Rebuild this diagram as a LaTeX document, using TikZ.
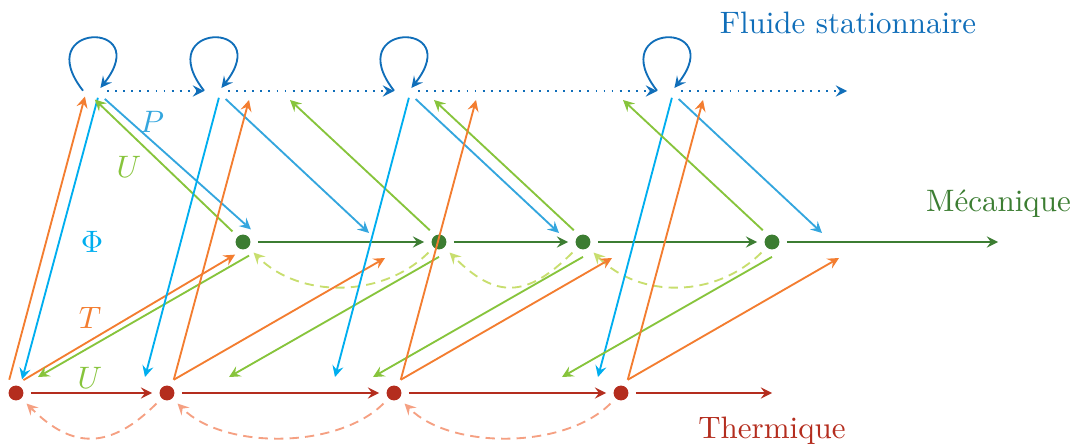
\documentclass[tikz,border=0pt]{standalone}
\usepackage{amsmath,amssymb}
\usepackage{tikz}
\usetikzlibrary{positioning, arrows.meta, calc}

\definecolor{cFluide}{RGB}{16,110,185}
\definecolor{cPhi}{RGB}{0,174,239}
\definecolor{cP}{RGB}{52,166,222}
\definecolor{cU}{RGB}{135,196,60}
\definecolor{cUdash}{RGB}{200,222,110}
\definecolor{cT}{RGB}{243,125,48}
\definecolor{cTdash}{RGB}{245,160,130}
\definecolor{cMeca}{RGB}{60,125,50}
\definecolor{cTherm}{RGB}{180,45,30}

\begin{document}
\begin{tikzpicture}[
    x=3.226pt, y=3.226pt,
    semithick,
    >=stealth,
    fnode/.style={circle, inner sep=0pt, minimum size=5.2pt},
    mnode/.style={circle, fill=cMeca, inner sep=0pt, minimum size=4.8pt, outer sep=2.4pt},
    tnode/.style={circle, fill=cTherm, inner sep=0pt, minimum size=4.8pt, outer sep=2.4pt},
    boucle/.style={->, cFluide},
    rowf/.style={->, dotted, cFluide, shorten <=2pt},
    rowm/.style={->, cMeca},
    rowt/.style={->, cTherm},
    retm/.style={->, cUdash, dash pattern=on 3pt off 2pt},
    rett/.style={->, cTdash, dash pattern=on 3pt off 2pt},
    phiarr/.style={->, cPhi},
    parr/.style={->, cP, shorten <=2pt},
    uarr/.style={->, cU},
    tarr/.style={->, cT}
]
\useasboundingbox (0,0) rectangle (107.6,-44.5);

% Fluid row
\node[fnode] (f0) at (9.2,-9.1) {};
\node[fnode] (f1) at (21.3,-9.1) {};
\node[fnode] (f2) at (40.3,-9.1) {};
\node[fnode] (f3) at (66.6,-9.1) {};
\coordinate (fend) at (84.7,-9.1);

% Mechanical row
\node[mnode] (m0) at (24.3,-24.2) {};
\node[mnode] (m1) at (43.9,-24.2) {};
\node[mnode] (m2) at (58.3,-24.2) {};
\node[mnode] (m3) at (77.2,-24.2) {};
\coordinate (mend) at (99.8,-24.2);

% Thermal row
\node[tnode] (b0) at (1.6,-39.3) {};
\node[tnode] (b1) at (16.7,-39.3) {};
\node[tnode] (b2) at (39.4,-39.3) {};
\node[tnode] (b3) at (62.1,-39.3) {};
\coordinate (bend) at (77.2,-39.3);

% Row titles
\node[text=cFluide] (fluideLabel) at (84.8,-2.25) {Fluide stationnaire};
\node[text=cMeca] (mecaLabel) at (99.85,-20.4) {Mécanique};
\node[text=cTherm] (thermLabel) at (77.2,-43.1) {Thermique};

% Time steps along each row
\foreach \i in {0,...,3}
    \draw[boucle] (f\i.178) to[out=128, in=52, distance=28pt] (f\i.20);
\foreach \a/\b in {f0/f1, f1/f2, f2/f3, f3/fend}
    \draw[rowf] (\a) -- (\b);
\foreach \a/\b in {m0/m1, m1/m2, m2/m3, m3/mend}
    \draw[rowm] (\a) -- (\b);
\foreach \a/\b in {b0/b1, b1/b2, b2/b3, b3/bend}
    \draw[rowt] (\a) -- (\b);
\foreach \a/\b in {m1/m0, m2/m1, m3/m2}
    \draw[retm] (\a) to[out=-135, in=-45, distance=21pt] (\b);
\foreach \a/\b in {b1/b0, b2/b1, b3/b2}
    \draw[rett] (\a) to[out=-135, in=-45, distance=21pt] (\b);

% First step: exchanges between the three fields
\coordinate (ub0) at ($(m0)+(-20.5,-13.5)$);
\draw[phiarr] (f0.-49) -- (b0.66);
\draw[parr] (f0.-25) -- (m0.58);
\draw[uarr] (m0.135) -- (f0.-72);
\draw[tarr] (b0.117) -- (f0.-142);
\draw[tarr] (b0.60) -- (m0.-122);
\draw[uarr] (m0.-66) -- (ub0);

% Following steps
\foreach \i in {1,2,3} {
    \coordinate (phi\i) at ($(f\i)+(-6.8,-28.6)$);
    \coordinate (pm\i) at ($(f\i)+(15.6,-14.2)$);
    \coordinate (uf\i) at ($(m\i)+(-14.9,14.2)$);
    \coordinate (ub\i) at ($(m\i)+(-21.0,-13.5)$);
    \coordinate (tf\i) at ($(b\i)+(8.2,29.3)$);
    \coordinate (tm\i) at ($(b\i)+(21.8,13.5)$);
    \draw[phiarr] (f\i.-49) -- (phi\i);
    \draw[parr] (f\i.-25) -- (pm\i);
    \draw[uarr] (m\i.128) -- (uf\i);
    \draw[uarr] (m\i.-90) -- (ub\i);
    \draw[tarr] (b\i.63) -- (tf\i);
    \draw[tarr] (b\i.63) -- (tm\i);
}

% Field labels
\node[text=cP] (labP) at (15.2,-12.2) {$P$};
\node[text=cU] (labUf) at (12.9,-16.7) {$U$};
\node[text=cPhi] (labPhi) at (9.2,-24.2) {$\Phi$};
\node[text=cT] (labT) at (9.0,-31.8) {$T$};
\node[text=cU] (labUb) at (9.0,-37.8) {$U$};

\end{tikzpicture}
\end{document}
